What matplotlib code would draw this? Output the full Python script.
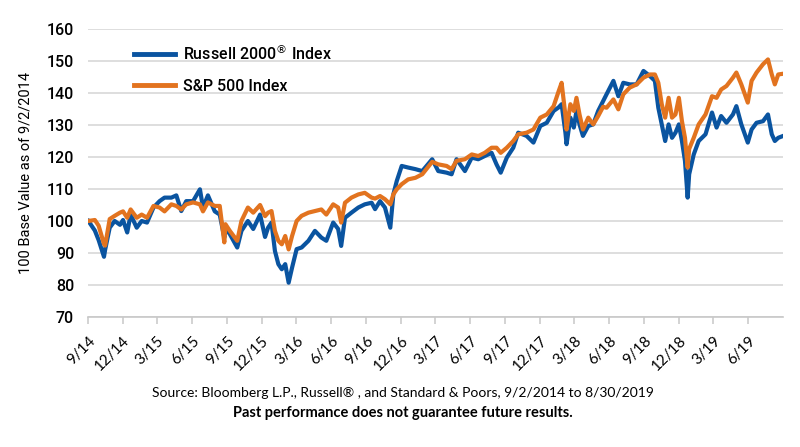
import numpy as np
import pandas as pd
import matplotlib
matplotlib.use("Agg")
import matplotlib.pyplot as plt

# values (index = 100 on 9/2/2014)
dates = [
    "2014-09-02", "2014-09-19", "2014-09-29", "2014-10-13", "2014-10-16", "2014-10-28",
    "2014-11-10", "2014-11-24", "2014-12-02", "2014-12-13", "2014-12-22", "2015-01-07",
    "2015-01-20", "2015-02-03", "2015-02-20", "2015-03-08", "2015-03-21", "2015-04-08",
    "2015-04-21", "2015-05-04", "2015-05-17", "2015-06-04", "2015-06-22", "2015-06-30",
    "2015-07-13", "2015-07-31", "2015-08-13", "2015-08-25", "2015-08-28", "2015-09-08",
    "2015-09-28", "2015-10-09", "2015-10-26", "2015-11-09", "2015-11-27", "2015-12-10",
    "2015-12-18", "2015-12-27", "2016-01-05", "2016-01-14", "2016-01-23", "2016-02-01",
    "2016-02-10", "2016-02-19", "2016-03-02", "2016-03-15", "2016-04-02", "2016-04-19",
    "2016-05-06", "2016-05-19", "2016-06-06", "2016-06-19", "2016-06-27", "2016-07-07",
    "2016-07-24", "2016-08-11", "2016-08-28", "2016-09-15", "2016-09-24", "2016-10-07",
    "2016-10-20", "2016-11-03", "2016-11-11", "2016-11-20", "2016-12-03", "2016-12-20",
    "2017-01-08", "2017-01-26", "2017-02-21", "2017-03-09", "2017-03-31", "2017-04-13",
    "2017-04-26", "2017-05-18", "2017-06-05", "2017-06-22", "2017-07-09", "2017-07-27",
    "2017-08-09", "2017-08-20", "2017-09-05", "2017-09-22", "2017-10-05", "2017-10-27",
    "2017-11-14", "2017-12-02", "2017-12-19", "2018-01-06", "2018-01-19", "2018-01-27",
    "2018-02-06", "2018-02-09", "2018-02-19", "2018-02-28", "2018-03-07", "2018-03-15",
    "2018-03-24", "2018-04-07", "2018-04-20", "2018-05-03", "2018-05-16", "2018-05-25",
    "2018-06-12", "2018-06-25", "2018-07-08", "2018-07-25", "2018-08-12", "2018-08-30",
    "2018-09-16", "2018-09-29", "2018-10-08", "2018-10-17", "2018-10-26", "2018-11-04",
    "2018-11-13", "2018-11-22", "2018-12-01", "2018-12-09", "2018-12-17", "2018-12-24",
    "2018-12-28", "2019-01-09", "2019-01-22", "2019-02-09", "2019-02-26", "2019-03-10",
    "2019-03-22", "2019-04-05", "2019-04-22", "2019-05-01", "2019-05-14", "2019-05-31",
    "2019-06-10", "2019-06-23", "2019-07-10", "2019-07-23", "2019-08-02", "2019-08-10",
    "2019-08-19", "2019-08-30",
]

russell = [
    100.0, 97.0, 94.0, 88.8, 91.0, 97.9,
    100.0, 98.8, 100.3, 96.4, 102.0, 97.9,
    100.0, 99.5, 104.2, 106.2, 107.3, 107.3,
    108.0, 103.1, 106.2, 106.2, 109.9, 104.2,
    108.0, 103.0, 102.0, 94.8, 97.5, 96.0,
    91.7, 96.9, 100.0, 97.5, 102.0, 95.0,
    97.9, 99.5, 90.6, 86.5, 84.9, 86.5,
    80.7, 85.4, 91.2, 91.7, 93.8, 96.9,
    94.8, 93.8, 99.5, 97.5, 92.2, 101.0,
    102.6, 104.2, 105.2, 105.7, 103.7, 106.2,
    104.2, 97.9, 108.3, 112.5, 117.2, 116.7,
    116.2, 115.6, 119.3, 115.6, 115.1, 114.6,
    119.3, 115.6, 119.8, 119.3, 120.3, 121.3,
    117.7, 115.1, 119.8, 122.9, 127.6, 126.6,
    124.5, 129.7, 130.7, 134.4, 135.5, 136.5,
    127.6, 124.0, 132.3, 129.2, 134.4, 130.2,
    126.6, 129.7, 130.2, 134.4, 137.5, 139.6,
    143.8, 139.0, 143.2, 142.7, 142.7, 146.9,
    145.3, 143.8, 135.4, 130.2, 125.0, 130.2,
    126.0, 127.6, 130.2, 125.0, 118.8, 107.3,
    114.6, 120.8, 125.0, 127.1, 133.9, 129.2,
    132.8, 130.7, 133.3, 135.9, 130.2, 124.5,
    128.6, 130.7, 131.2, 133.3, 127.1, 125.0,
    126.0, 126.5,
]

sp500 = [
    100.0, 100.3, 98.5, 92.8, 92.3, 100.6,
    101.6, 102.6, 103.0, 101.0, 103.6, 101.0,
    102.0, 101.0, 104.7, 104.2, 103.0, 105.2,
    104.7, 103.6, 105.2, 105.8, 105.2, 103.0,
    105.8, 104.7, 104.7, 93.3, 99.0, 97.0,
    93.8, 100.0, 104.2, 102.6, 105.0, 101.5,
    102.6, 103.1, 96.9, 93.8, 92.7, 95.3,
    91.1, 95.3, 100.0, 101.6, 102.6, 103.1,
    103.6, 102.0, 105.2, 104.2, 99.5, 105.7,
    107.3, 108.3, 108.8, 107.3, 107.0, 107.8,
    106.8, 105.2, 108.3, 109.9, 111.5, 113.0,
    113.5, 114.6, 118.5, 117.7, 117.2, 116.2,
    118.8, 119.3, 120.8, 120.3, 121.3, 122.9,
    122.9, 121.3, 122.9, 125.0, 127.1, 127.6,
    128.6, 132.3, 133.3, 135.9, 140.5, 143.2,
    133.0, 128.6, 136.5, 134.4, 138.5, 133.3,
    128.6, 132.3, 130.2, 132.8, 135.7, 135.4,
    138.0, 134.9, 139.6, 141.7, 142.7, 144.8,
    145.8, 145.8, 143.2, 136.5, 132.3, 138.5,
    132.3, 133.3, 138.5, 131.2, 126.0, 116.7,
    122.5, 126.0, 130.2, 133.3, 139.0, 138.5,
    141.1, 142.2, 144.8, 146.4, 142.7, 137.0,
    143.8, 146.4, 149.0, 150.5, 145.8, 142.7,
    145.8, 146.0,
]

series_names = ["Russell 2000$^{\u00ae}$ Index", "S&P 500 Index"]
series_colors = ["#0A54A0", "#E2731F"]

x = pd.to_datetime(dates)

fig = plt.figure(figsize=(8.0, 4.47), dpi=100)
ax = fig.add_axes([0.110, 0.291, 0.869, 0.644])

ax.plot(x, russell, color=series_colors[0], lw=3.0, label=series_names[0], solid_joinstyle="round")
ax.plot(x, sp500, color=series_colors[1], lw=3.0, label=series_names[1], solid_joinstyle="round")

ax.set_ylim(70, 160)
ax.set_yticks(np.arange(70, 161, 10))
ax.set_xlim(pd.Timestamp("2014-09-01"), pd.Timestamp("2019-09-01"))
ticks = pd.date_range("2014-09-01", "2019-06-01", freq="3MS")
ax.set_xticks(ticks)
ax.set_xticklabels([f"{d.month}/{d.year % 100}" for d in ticks],
                   rotation=45, ha="right", rotation_mode="anchor",
                   fontfamily="Lato", fontsize=11)

ax.grid(axis="y", color="#D4D4D4", lw=1.1)
ax.set_axisbelow(True)
for s in ["top", "right", "left"]:
    ax.spines[s].set_visible(False)
ax.spines["bottom"].set_color("#C8C8C8")
ax.spines["bottom"].set_linewidth(1.2)
ax.tick_params(axis="x", direction="out", length=5, width=1.1, color="#C8C8C8", pad=7)
ax.tick_params(axis="y", length=0, pad=10, labelsize=11.5)
for lab in ax.get_yticklabels():
    lab.set_fontfamily("Roboto")
    lab.set_fontweight("medium")

ax.set_ylabel("100 Base Value as of 9/2/2014", fontfamily="Roboto", fontsize=10.5, labelpad=10)

leg = ax.legend(loc="upper left", bbox_to_anchor=(0.045, 1.0), frameon=False,
                prop={"family": "Roboto", "size": 11.5, "weight": "medium"}, handlelength=2.6,
                labelspacing=1.0, handletextpad=0.5)
for line in leg.get_lines():
    line.set_linewidth(3.5)

fig.text(0.504, 0.12, "Source: Bloomberg L.P., Russell\u00ae , and Standard & Poors, 9/2/2014 to 8/30/2019",
         ha="center", va="center", fontfamily="Lato", fontsize=10)
fig.text(0.504, 0.075, "Past performance does not guarantee future results.",
         ha="center", va="center", fontfamily="Lato", fontweight="bold", fontsize=10.5)

fig.savefig("out.png", dpi=100)
